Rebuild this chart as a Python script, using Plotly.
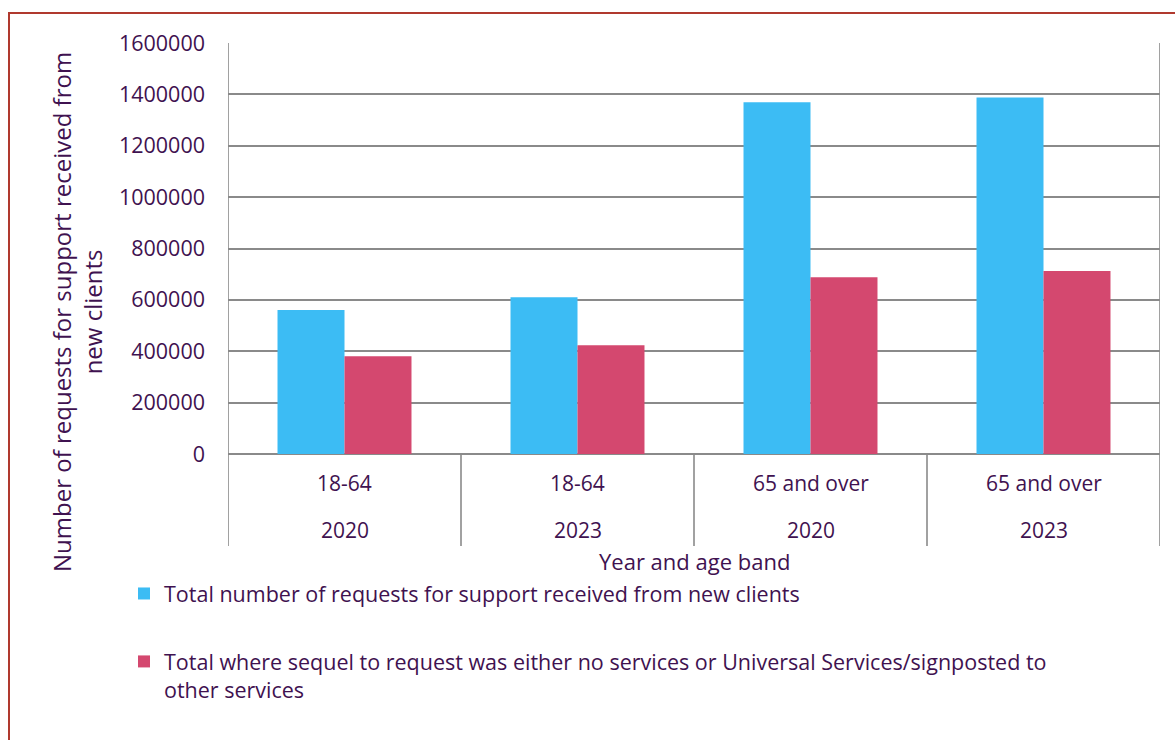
import plotly.graph_objects as go

# Category levels (inner: age band, outer: year)
age_bands = ["18-64", "18-64", "65 and over", "65 and over"]
years = ["2020", "2023", "2020", "2023"]

# Series values
total_requests = [561000, 610500, 1369000, 1388000]
no_services_or_signposted = [380500, 423500, 688000, 712000]

series_names = [
    "Total number of requests for support received from new clients",
    "Total where sequel to request was either no services or Universal Services/signposted to<br>other services",
]
series_colors = ["#3CBCF4", "#D4486F"]

y_ticks = [0, 200000, 400000, 600000, 800000, 1000000, 1200000, 1400000, 1600000]

TEXT = "#3F1250"
GRID = "#8A8A8A"
FONT = "Open Sans, Liberation Sans, Arial, sans-serif"

W, H = 1175, 740
L, R, T, B = 228, 15, 43, 286
plot_h = H - T - B
plot_w = W - L - R


def py(pix):
    """Pixel row -> paper y."""
    return (H - B - pix) / plot_h


def px(pix):
    """Pixel column -> paper x."""
    return (pix - L) / plot_w


idx = list(range(len(age_bands)))

fig = go.Figure()
for name, vals, col, grp in zip(series_names, [total_requests, no_services_or_signposted],
                                series_colors, ["a", "b"]):
    fig.add_trace(go.Bar(
        x=idx, y=vals, name=name, marker=dict(color=col, line=dict(width=0)),
        legendgroup=grp,
    ))

fig.update_layout(
    width=W, height=H,
    margin=dict(l=L, r=R, t=T, b=B),
    paper_bgcolor="white", plot_bgcolor="white",
    barmode="group", bargap=0.425, bargroupgap=0,
    font=dict(family=FONT, color=TEXT, size=21),
    showlegend=True,
    legend=dict(
        x=px(124), y=py(573), xanchor="left", yanchor="top",
        font=dict(size=21.5, color=TEXT), tracegroupgap=37, valign="top",
        bgcolor="rgba(0,0,0,0)",
    ),
)

fig.update_xaxes(
    range=[-0.5, len(idx) - 0.5], showticklabels=False, showgrid=False,
    zeroline=False, showline=False, ticks="",
)
fig.update_yaxes(
    range=[0, 1600000], tickvals=y_ticks, tickformat="d",
    showgrid=True, gridcolor=GRID, gridwidth=1.6,
    zeroline=True, zerolinecolor=GRID, zerolinewidth=1.6,
    showline=False, ticks="", ticklabelstandoff=22,
    tickfont=dict(size=21.5, color=TEXT),
)

# Category axis frame: outer edges and dividers between groups
bottom = py(546)
for k in range(len(idx) + 1):
    xv = k - 0.5
    top = 1 if k in (0, len(idx)) else 0
    fig.add_shape(type="line", xref="x", yref="paper", x0=xv, x1=xv, y0=top, y1=bottom,
                  line=dict(color=GRID, width=1.6))

# Two-level category labels
for i, (age, yr) in enumerate(zip(age_bands, years)):
    fig.add_annotation(x=i, y=py(483), xref="x", yref="paper", text=age, showarrow=False,
                       font=dict(size=21, color=TEXT), xanchor="center", yanchor="middle")
    fig.add_annotation(x=i, y=py(530), xref="x", yref="paper", text=yr, showarrow=False,
                       font=dict(size=21, color=TEXT), xanchor="center", yanchor="middle")

# Axis titles
fig.add_annotation(x=0.5, y=py(561), xref="paper", yref="paper", text="Year and age band",
                   showarrow=False, font=dict(size=22, color=TEXT),
                   xanchor="center", yanchor="middle")
fig.add_annotation(x=px(77), y=py(312), xref="paper", yref="paper",
                   text="Number of requests for support received from<br>new clients",
                   textangle=-90, showarrow=False, font=dict(size=24, color=TEXT),
                   xanchor="center", yanchor="middle")

# Outer chart border
fig.add_shape(type="rect", xref="paper", yref="paper",
              x0=px(9), x1=px(1190), y0=py(13), y1=py(760),
              line=dict(color="#B0392E", width=2), fillcolor="rgba(0,0,0,0)", layer="below")

fig.write_html("out.html")
